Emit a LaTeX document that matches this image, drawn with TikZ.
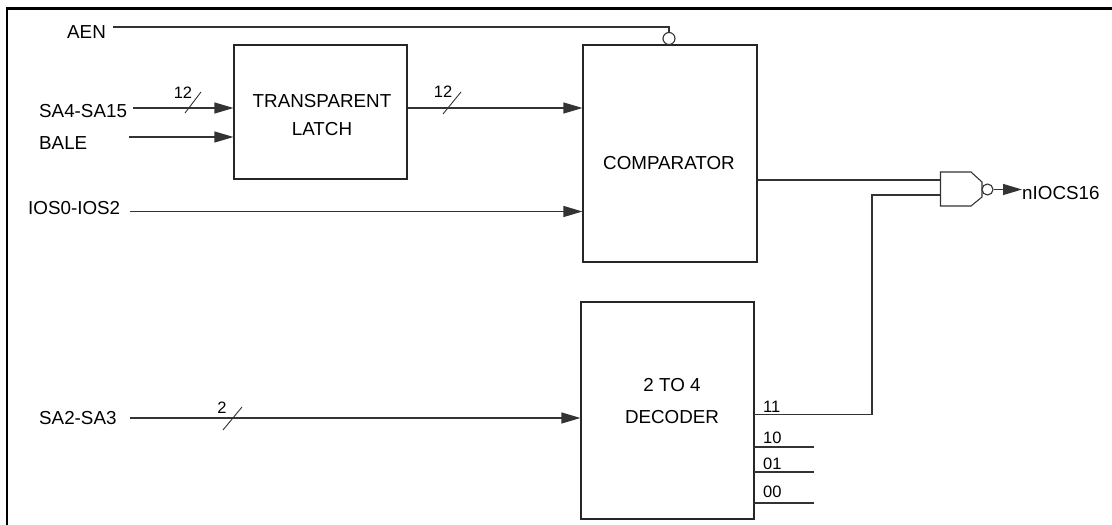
\documentclass[tikz,border=0pt]{standalone}
\usepackage{fontspec}
\setmainfont{Liberation Sans}
\usetikzlibrary{arrows.meta,calc}
\begin{document}
\begin{tikzpicture}[x=1pt,y=-1pt,
  wire/.style={line width=1.1pt, draw=black!80},
  arr/.style={wire, -{Triangle[length=19pt,width=11pt]}},
  blk/.style={draw=black!85, line width=1.1pt, inner sep=0pt},
  lbl/.style={font=\fontsize{18.8}{22}\selectfont, inner sep=0pt},
  bus/.style={font=\fontsize{16.5}{19}\selectfont, inner sep=0pt},
  slash/.style={line width=0.9pt, draw=black!80},
  bubble/.style={wire, circle, inner sep=0pt, fill=white},
]
\useasboundingbox (0,0) rectangle (1112,525);
% frame
\draw[line width=2.2pt] (7,526) -- (7,8.5) -- (1113,8.5);

% blocks
\node[blk, minimum width=173pt, minimum height=134pt] (latch) at (320.5,112) {};
\node[blk, minimum width=174pt, minimum height=217pt] (comp) at (670,153.5) {};
\node[blk, minimum width=173pt, minimum height=217pt] (dec) at (667.5,410.5) {};

\node[lbl] (tlatch1) at (322,101) {TRANSPARENT};
\node[lbl] (tlatch2) at (322,129.5) {LATCH};
\node[lbl] (tcomp) at (669,163) {COMPARATOR};
\node[lbl] (tdec1) at (672,385) {2 TO 4};
\node[lbl] (tdec2) at (672,417) {DECODER};

% input labels
\node[lbl, anchor=west] (aen) at (67,32) {AEN};
\node[lbl, anchor=west] (sa4) at (39,111) {SA4-SA15};
\node[lbl, anchor=west] (bale) at (39,143) {BALE};
\node[lbl, anchor=west] (ios) at (28,208) {IOS0-IOS2};
\node[lbl, anchor=west] (sa2) at (39,418) {SA2-SA3};
\node[lbl, anchor=west] (niocs) at (1022,193.5) {nIOCS16};

% wire start points
\coordinate (aenS) at (113,27);
\coordinate (sa4S) at (133,108);
\coordinate (baleS) at (129,137);
\coordinate (iosS) at (130,211.5);
\coordinate (sa2S) at (130,418);

% AEN with inverting bubble
\node[bubble, minimum size=12pt] (aenb) at (669,38.5) {};
\draw[wire] (aenS) -- (aenS -| aenb) -- (aenb.north);

% inputs
\draw[arr] (sa4S) -- (sa4S -| latch.west);
\draw[arr] (baleS) -- (baleS -| latch.west);
\draw[arr] (latch.east |- sa4S) -- (comp.west |- sa4S);
\draw[arr] (iosS) -- (iosS -| comp.west);
\draw[arr] (sa2S) -- (sa2S -| dec.west);

% bus width marks
\draw[slash] (185,113) -- (201,92);
\node[bus] (w1) at (183,93) {12};
\draw[slash] (443,114) -- (461,92);
\node[bus] (w2) at (443,92) {12};
\draw[slash] (223,430) -- (242,407);
\node[bus] (w3) at (222,408) {2};

% NAND gate
\coordinate (gin1) at (940.5,180);
\coordinate (gin2) at (940.5,195);
\draw[wire, fill=white] (940.5,172) -- (971,172) -- (982,182) -- (982,197) -- (971,206) -- (940.5,206) -- cycle;
\node[bubble, minimum size=11pt] (gb) at (987.5,189.5) {};
\draw[arr] (gb.east) -- (gb.east -| niocs.west);

\draw[wire] (comp.east |- gin1) -- (gin1);

% decoder outputs
\coordinate (o11) at (754,414.5);
\coordinate (jog) at (872,195);
\draw[wire] (o11) -| (jog) -- (gin2);
\coordinate (o10s) at (754,447);  \coordinate (o10e) at (814,447);
\coordinate (o01s) at (754,472);  \coordinate (o01e) at (814,472);
\coordinate (o00s) at (754,503);  \coordinate (o00e) at (814,503);
\draw[wire] (o10s) -- (o10e);
\draw[wire] (o01s) -- (o01e);
\draw[wire] (o00s) -- (o00e);
\node[bus, anchor=west] (b11) at (763,406.5) {11};
\node[bus, anchor=west] (b10) at (763,438) {10};
\node[bus, anchor=west] (b01) at (763,463.5) {01};
\node[bus, anchor=west] (b00) at (763,491.5) {00};
\end{tikzpicture}
\end{document}
